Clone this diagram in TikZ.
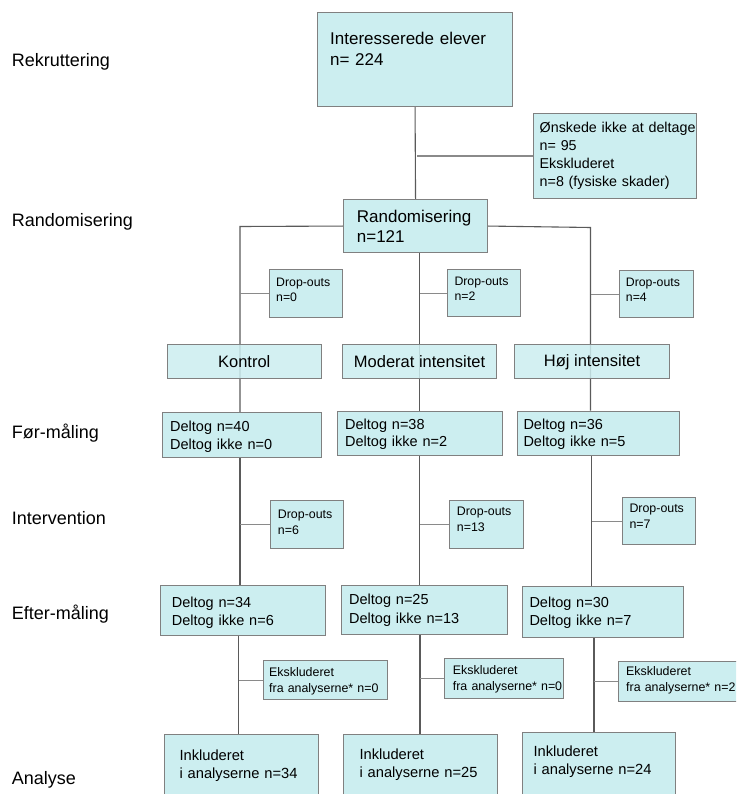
\documentclass[tikz,border=0pt]{standalone}
\usepackage{fontspec}
\setmainfont{Liberation Sans}
\usetikzlibrary{backgrounds}
\definecolor{boxfill}{HTML}{CCEEF0}
\definecolor{boxline}{HTML}{808080}
\definecolor{trunk}{HTML}{5A5A5A}
\definecolor{twig}{HTML}{8A8A8A}
\tikzset{
  box/.style={draw=boxline, fill=boxfill, line width=1.1pt, inner sep=0pt, anchor=north west},
  group/.style={box, fill opacity=0.85, text opacity=1, font=\fontsize{16.5}{20}\selectfont},
  txt/.style={anchor=base west, inner sep=0pt, align=left, text width=200pt},
  fbig/.style={txt, font=\fontsize{17}{21.5}\selectfont},
  fexcl/.style={txt, font=\fontsize{14.3}{18.3}\selectfont},
  fsmall/.style={txt, font=\fontsize{12.4}{15.8}\selectfont},
  fmid/.style={txt, font=\fontsize{14.5}{18}\selectfont},
  fincl/.style={txt, font=\fontsize{14.7}{18.3}\selectfont},
  stage/.style={anchor=base west, inner sep=0pt, font=\fontsize{18}{22}\selectfont},
  conn/.style={draw=trunk, line width=1.1pt},
  twigline/.style={draw=twig, line width=1.1pt},
}
\begin{document}
\begin{tikzpicture}[x=1pt, y=-1pt]
\clip (0,0) rectangle (736,794);

% stage labels
\node[stage] (s1) at (11.7,66.5) {Rekruttering};
\node[stage] (s2) at (11.7,226.5) {Randomisering};
\node[stage] (s3) at (11.7,438.2) {Før-måling};
\node[stage] (s4) at (11.7,524.8) {Intervention};
\node[stage] (s5) at (11.7,619.8) {Efter-måling};
\node[stage] (s6) at (11.7,784.8) {Analyse};

% recruitment and randomisation
\node[box, minimum width=195pt, minimum height=94pt] (top) at (317,12) {};
\node[fbig] (topt) at (330,44.4) {Interesserede elever\\n= 224};
\node[box, minimum width=163pt, minimum height=85pt] (excl) at (533,113) {};
\node[fexcl] (exclt) at (539.5,132.1) {Ønskede ikke at deltage\\n= 95\\Ekskluderet\\n=8 (fysiske skader)};
\node[box, minimum width=144pt, minimum height=53pt] (rand) at (343,199) {};
\node[fbig, font=\fontsize{17}{20.7}\selectfont] (randt) at (356.7,222.1) {Randomisering\\n=121};

% drop-outs before allocation
\node[box, minimum width=73pt, minimum height=48pt] (d1) at (269,269) {};
\node[fsmall, font=\fontsize{12.3}{15}\selectfont] (d1t) at (276,286.1) {Drop-outs\\n=0};
\node[box, minimum width=73pt, minimum height=47.3pt] (d2) at (447.3,269) {};
\node[fsmall, font=\fontsize{12.3}{15}\selectfont] (d2t) at (454.3,285.1) {Drop-outs\\n=2};
\node[box, minimum width=73.7pt, minimum height=47.6pt] (d3) at (619,269.7) {};
\node[fsmall, font=\fontsize{12.3}{15}\selectfont] (d3t) at (625.7,286.1) {Drop-outs\\n=4};

% pre-test
\node[box, minimum width=159.3pt, minimum height=44.4pt] (p1) at (162,412.3) {};
\node[fmid, font=\fontsize{14.5}{17.3}\selectfont] (p1t) at (170,431.9) {Deltog n=40\\Deltog ikke n=0};
\node[box, minimum width=165pt, minimum height=44.3pt] (p2) at (336.7,410.7) {};
\node[fmid, font=\fontsize{14.5}{17.3}\selectfont] (p2t) at (345,429.2) {Deltog n=38\\Deltog ikke n=2};
\node[box, minimum width=162.6pt, minimum height=44.3pt] (p3) at (516.7,410.7) {};
\node[fmid, font=\fontsize{14.5}{17.3}\selectfont] (p3t) at (523.3,429.2) {Deltog n=36\\Deltog ikke n=5};

% drop-outs during intervention
\node[box, minimum width=73pt, minimum height=47.7pt] (e1) at (270.3,500) {};
\node[fsmall] (e1t) at (277.7,518.8) {Drop-outs\\n=6};
\node[box, minimum width=73.7pt, minimum height=47.7pt] (e2) at (449.3,500) {};
\node[fsmall] (e2t) at (456.7,515.2) {Drop-outs\\n=13};
\node[box, minimum width=73.3pt, minimum height=47.6pt] (e3) at (621.7,496.7) {};
\node[fsmall] (e3t) at (629.3,512.8) {Drop-outs\\n=7};

% post-test
\node[box, minimum width=165pt, minimum height=50pt] (q1) at (160,585) {};
\node[fmid, font=\fontsize{14.5}{18.4}\selectfont] (q1t) at (171.7,607.5) {Deltog n=34\\Deltog ikke n=6};
\node[box, minimum width=165.7pt, minimum height=49pt] (q2) at (341,585) {};
\node[fmid, font=\fontsize{14.5}{18.6}\selectfont] (q2t) at (349,604.5) {Deltog n=25\\Deltog ikke n=13};
\node[box, minimum width=160.7pt, minimum height=51pt] (q3) at (522.3,586) {};
\node[fmid, font=\fontsize{14.5}{17.6}\selectfont] (q3t) at (529.3,607.9) {Deltog n=30\\Deltog ikke n=7};

% excluded from analyses
\node[box, minimum width=124pt, minimum height=39pt] (x1) at (263,660) {};
\node[fsmall] (x1t) at (269,676.8) {Ekskluderet\\fra analyserne* n=0};
\node[box, minimum width=118.7pt, minimum height=40pt] (x2) at (444,658.3) {};
\node[fsmall] (x2t) at (452.7,674.5) {Ekskluderet\\fra analyserne* n=0};
\node[box, minimum width=130pt, minimum height=40pt] (x3) at (617.7,660.7) {};
\node[fsmall] (x3t) at (626,675.5) {Ekskluderet\\fra analyserne* n=2};

% included in analyses
\node[box, minimum width=154pt, minimum height=80pt] (i1) at (164.3,734) {};
\node[fincl] (i1t) at (179.3,760.3) {Inkluderet\\i analyserne n=34};
\node[box, minimum width=154pt, minimum height=80pt] (i2) at (343.3,734) {};
\node[fincl] (i2t) at (359.3,759.3) {Inkluderet\\i analyserne n=25};
\node[box, minimum width=153.3pt, minimum height=80pt] (i3) at (521.7,732.3) {};
\node[fincl] (i3t) at (533.3,756.3) {Inkluderet\\i analyserne n=24};

% trunk and branch lines, drawn beneath the boxes
\coordinate (cL) at (240,226.5);
\coordinate (cR) at (590.5,227.5);
\coordinate (colA) at (238.5,700);
\coordinate (colB) at (420,700);
\coordinate (colC) at (594,700);

\begin{scope}[on background layer]
  \fill[white] (0,0) rectangle (736,794);
  \draw[conn] (top.south) -- (rand.north);
  \draw[twigline] (excl.west) -- ([xshift=2pt]excl.west -| top.south);
  \draw[conn] (rand.west) -- (cL) -- (cL |- p1.north);
  \draw[conn] (rand.east) -- (cR) -- (cR |- p3.north);
  \draw[conn] (p2.north |- rand.south) -- (p2.north);
  \draw[twigline] (d1.west) -- (d1.west -| cL);
  \draw[twigline] (d2.west) -- (d2.west -| p2.north);
  \draw[twigline] (d3.west) -- (d3.west -| cR);
  \draw[conn] (cL |- p1.south) -- (cL |- q1.north);
  \draw[conn] (p2.south) -- (p2.south |- q2.north);
  \draw[conn] ([xshift=1pt]cR |- p3.south) -- ([xshift=1pt]cR |- q3.north);
  \draw[twigline] (e1.west) -- (e1.west -| cL);
  \draw[twigline] (e2.west) -- (e2.west -| p2.south);
  \draw[twigline] (e3.west) -- ([xshift=1pt]e3.west -| cR);
  \draw[conn] (colA |- q1.south) -- (colA |- i1.north);
  \draw[conn] (colB |- q2.south) -- (colB |- i2.north);
  \draw[conn] (colC |- q3.south) -- (colC |- i3.north);
  \draw[twigline] (x1.west) -- (x1.west -| colA);
  \draw[twigline] (x2.west) -- (x2.west -| colB);
  \draw[twigline] (x3.west) -- (x3.west -| colC);
\end{scope}

% arm boxes, the trunk lines show faintly through them
\node[group, minimum width=154pt, minimum height=33.4pt] (g1) at (166.7,344.3) {Kontrol};
\node[group, minimum width=154pt, minimum height=34pt] (g2) at (342,344.3) {Moderat intensitet};
\node[group, minimum width=154.4pt, minimum height=34pt] (g3) at (514.3,344.3) {Høj intensitet};
\end{tikzpicture}
\end{document}
